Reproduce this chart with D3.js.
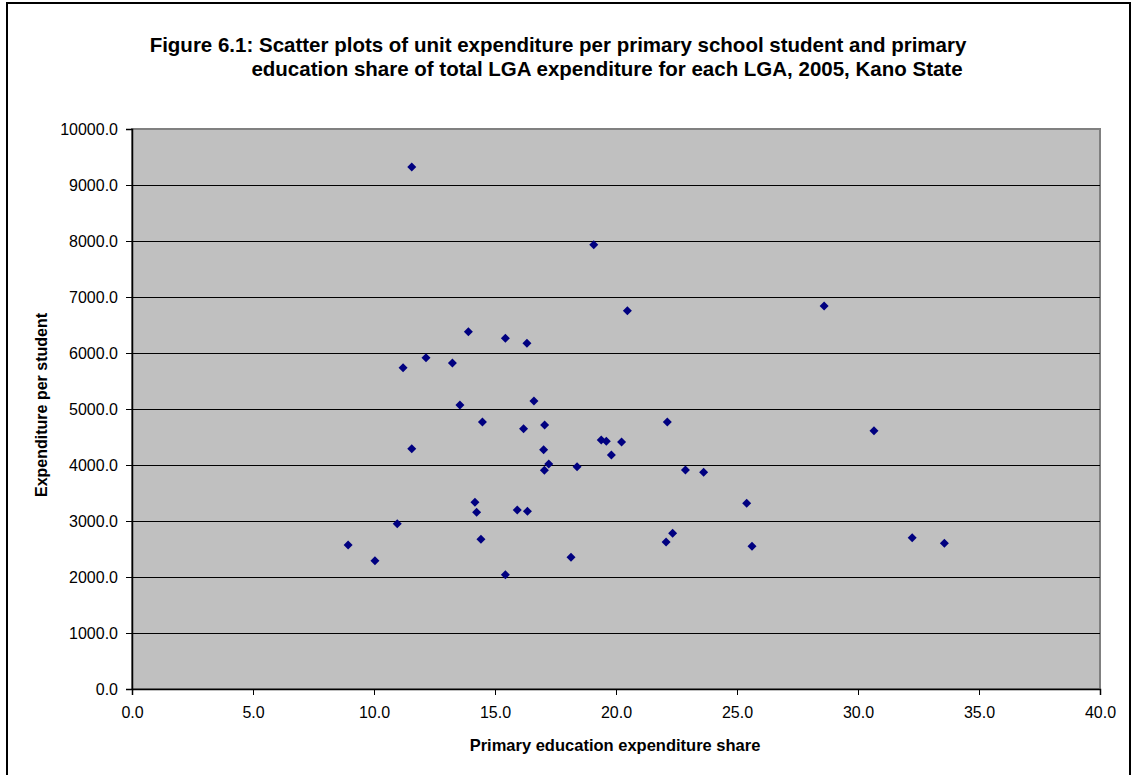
<!DOCTYPE html>
<html><head><meta charset="utf-8">
<script src="https://cdn.jsdelivr.net/npm/d3@7"></script>
<style>body{margin:0;background:#fff}svg{display:block}text{font-family:Arial,"Liberation Sans",sans-serif}</style>
</head><body>
<svg id="c" width="1132" height="775"></svg>
<script>
const titleLines = ["Figure 6.1: Scatter plots of unit expenditure per primary school student and primary",
                    "education share of total LGA expenditure for each LGA, 2005, Kano State"];
const xTitle = "Primary education expenditure share";
const yTitle = "Expenditure per student";
const xTicks = [0,5,10,15,20,25,30,35,40];
const yTicks = [0,1000,2000,3000,4000,5000,6000,7000,8000,9000,10000];
const shareValues = [13.9,15.43,16.32,12.15,11.2,13.24,13.55,16.61,14.48,16.18,17.05,11.56,17.01,17.22,17.04,18.39,19.39,19.6,20.23,19.81,22.12,22.87,14.17,14.24,15.92,16.34,10.96,8.93,10.04,14.42,15.43,18.14,22.07,22.34,11.56,19.08,20.47,28.6,30.66,23.62,25.4,25.62,32.24,33.57];
const expenditureValues = [6380,6262,6173,5916,5738,5821,5071,5143,4768,4649,4714,4292,4274,4018,3905,3970,4446,4423,4411,4179,4768,3911,3334,3155,3196,3173,2952,2571,2292,2673,2042,2351,2625,2780,9321,7934,6755,6839,4613,3869,3316,2548,2702,2601];

const svg = d3.select("#c");
const L = 132, R = 1100, T = 129, B = 689;
const x = d3.scaleLinear().domain([0,40]).range([L,R]);
const y = d3.scaleLinear().domain([0,10000]).range([B,T]);

svg.append("rect").attr("x",7).attr("y",3).attr("width",1123).attr("height",800)
  .attr("fill","#fff").attr("stroke","#000").attr("stroke-width",2);

svg.append("rect").attr("x",L).attr("y",T).attr("width",R-L).attr("height",B-T)
  .attr("fill","#c0c0c0").attr("stroke","#808080").attr("stroke-width",2);

svg.append("g").selectAll("line").data(yTicks.filter(d=>d>0 && d<10000)).join("line")
  .attr("x1",L).attr("x2",R).attr("y1",d=>Math.round(y(d))+0.5).attr("y2",d=>Math.round(y(d))+0.5)
  .attr("stroke","#000").attr("stroke-width",1);

const ya = svg.append("g").attr("transform",`translate(${L},0)`)
  .call(d3.axisLeft(y).tickValues(yTicks).tickFormat(d3.format(".1f")).tickSize(6).tickPadding(8));
const xa = svg.append("g").attr("transform",`translate(0,${B})`)
  .call(d3.axisBottom(x).tickValues(xTicks).tickFormat(d3.format(".1f")).tickSize(6).tickPadding(12));
[ya,xa].forEach(a=>{
  a.select(".domain").attr("stroke","#000").attr("stroke-width",1.5);
  a.selectAll(".tick line").attr("stroke","#000");
  a.selectAll("text").attr("font-size",16).attr("fill","#000").attr("font-family","Arial, Liberation Sans, sans-serif");
});

const pts = shareValues.map((v,i)=>({x:v,y:expenditureValues[i]}));
svg.append("g").selectAll("path").data(pts).join("path")
  .attr("transform",d=>`translate(${x(d.x)},${y(d.y)})`)
  .attr("d","M0,-4.5L4.5,0L0,4.5L-4.5,0Z").attr("fill","#000080");

const titleX = [558, 607];
svg.append("g").selectAll("text").data(titleLines).join("text")
  .attr("x",(d,i)=>titleX[i]).attr("y",(d,i)=>52+i*24).attr("text-anchor","middle")
  .attr("font-size",20.5).attr("font-weight","bold").text(d=>d);

svg.append("text").attr("x",615).attr("y",751).attr("text-anchor","middle")
  .attr("font-size",16.5).attr("font-weight","bold").text(xTitle);
svg.append("text").attr("transform",`translate(47,${(T+B)/2 - 4}) rotate(-90)`).attr("text-anchor","middle")
  .attr("font-size",16).attr("font-weight","bold").text(yTitle);
</script>
</body></html>
